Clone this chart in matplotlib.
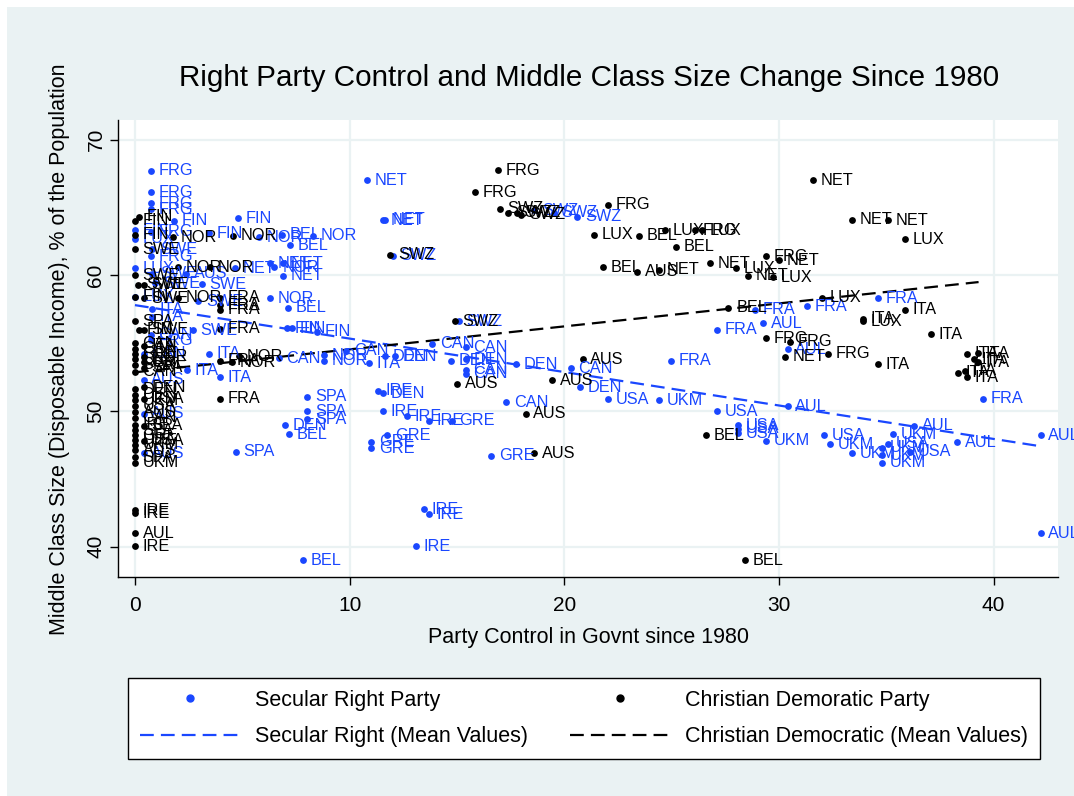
import matplotlib
matplotlib.use("Agg")
import matplotlib.pyplot as plt
from matplotlib.lines import Line2D
from matplotlib.patches import Rectangle

plt.rcParams['font.family'] = ['Liberation Sans', 'DejaVu Sans']

# Secular right party: years in government since 1980, middle class size, country
sec_x = [0.75, 0.75, 0.75, 0.75, 1.8, 4.8, 0.0, 0.75, 0.0, 3.45, 5.8, 6.85, 8.3, 7.2,
         0.8, 0.75, 0.0, 0.8, 2.4, 0.95, 3.1, 4.66, 6.3, 6.9, 6.5, 6.9, 0.0, 6.3, 7.15,
         2.95, 0.78, 0.78, 0.73, 0.73, 0.4, 0.4, 0.4, 0.4, 2.7, 7.07, 7.3, 8.47, 3.45,
         2.44, 3.96, 6.7, 8.8, 8.8, 9.85, 10.9, 11.65, 12.1, 11.55, 11.65, 10.8, 12.0,
         15.1, 18.6, 19.5, 20.6, 13.85, 15.4, 14.7, 15.4, 15.4, 15.4, 17.75, 20.3, 20.75,
         17.3, 11.3, 11.55, 11.55, 12.65, 13.7, 14.75, 11.75, 11.0, 11.0, 16.6, 13.45,
         13.7, 13.1, 7.85, 8.03, 8.03, 8.03, 7.0, 7.18, 4.7, 22.05, 24.4, 27.1, 30.4,
         28.1, 28.1, 28.1, 29.4, 32.1, 32.4, 33.4, 35.3, 36.3, 38.3, 35.1, 34.8, 34.8,
         34.8, 36.1, 42.2, 42.2, 39.5, 34.6, 28.9, 31.3, 27.1, 29.25, 30.4, 24.97]
sec_y = [67.7, 66.1, 65.3, 64.85, 64.0, 64.2, 63.3, 63.2, 62.7, 63.1, 62.8, 63.0, 62.9, 62.2,
         61.9, 61.4, 60.5, 60.1, 60.1, 59.4, 59.35, 60.5, 60.9, 60.9, 60.6, 59.95, 58.4, 58.3, 57.6,
         58.1, 57.5, 56.95, 55.2, 55.6, 54.2, 52.3, 49.8, 46.9, 55.95, 56.1, 56.1, 55.85, 54.2,
         53.0, 52.5, 53.9, 54.1, 53.7, 54.45, 53.5, 54.05, 54.05, 64.05, 64.1, 67.0, 61.45,
         56.6, 64.8, 64.6, 64.3, 54.95, 54.7, 53.7, 53.8, 53.05, 52.75, 53.45, 53.15, 51.75,
         50.65, 51.5, 51.3, 50.0, 49.6, 49.3, 49.3, 48.2, 47.75, 47.25, 46.7, 42.75,
         42.4, 40.05, 39.0, 51.05, 50.0, 49.4, 48.95, 48.3, 47.0, 50.85, 50.8, 50.0, 50.35,
         48.95, 48.7, 48.35, 47.8, 48.2, 47.55, 46.9, 48.3, 48.9, 47.7, 47.6, 47.3, 46.75,
         46.2, 47.0, 48.2, 41.0, 50.9, 58.3, 57.45, 57.7, 56.0, 56.45, 54.55, 53.7]
sec_lab = ['FRG', 'FRG', 'FRG', 'FRG', 'FIN', 'FIN', 'FIN', 'FRG', 'LUX', 'FIN', 'NOR', 'BEL', 'NOR', 'BEL',
           'SWE', 'FRG', 'LUX', 'SWE', 'AUS', 'SWE', 'SWE', 'NET', 'NET', 'NET', 'NOR', 'NET', 'LUX', 'NOR', 'BEL',
           'SWE', 'ITA', 'ITA', 'FRG', 'CAN', 'CAN', 'AUS', 'AUS', 'AUS', 'SWE', 'FIN', 'FIN', 'FIN', 'ITA',
           'ITA', 'ITA', 'CAN', 'NOR', 'NOR', 'CAN', 'ITA', 'DEN', 'DEN', 'NET', 'NET', 'NET', 'SWZ',
           'SWZ', 'SWZ', 'SWZ', 'SWZ', 'CAN', 'CAN', 'DEN', 'DEN', 'CAN', 'CAN', 'DEN', 'CAN', 'DEN',
           'CAN', 'IRE', 'DEN', 'IRE', 'IRE', 'IRE', 'GRE', 'GRE', 'GRE', 'GRE', 'GRE', 'IRE',
           'IRE', 'IRE', 'BEL', 'SPA', 'SPA', 'SPA', 'DEN', 'BEL', 'SPA', 'USA', 'UKM', 'USA', 'AUL',
           'USA', 'USA', 'USA', 'UKM', 'USA', 'UKM', 'UKM', 'UKM', 'AUL', 'AUL', 'USA', 'UKM', 'UKM',
           'UKM', 'USA', 'AUL', 'AUL', 'FRA', 'FRA', 'FRA', 'FRA', 'FRA', 'AUL', 'AUL', 'FRA']

# Christian democratic party
cd_x = [0.2, 0.0, 0.0, 1.75, 4.57, 0.0, 0.0, 2.0, 3.5, 0.15, 0.4, 0.0, 0.4, 2.0, 3.96,
        3.96, 3.96, 0.0, 0.2, 0.4, 3.96, 0.0, 0.0, 0.0, 0.0, 0.0, 0.0, 0.4, 0.4, 0.4, 0.4,
        4.86, 3.96, 4.5, 3.96, 0.0, 0.0, 0.0, 0.0, 0.0, 0.0, 0.0, 0.0, 0.0, 0.0, 0.0, 0.0,
        0.0, 0.0, 0.4, 0.4, 0.4, 0.4, 0.0, 0.0, 0.0, 0.0, 14.9, 11.9, 17.0, 17.4, 17.8, 18.0,
        16.9, 15.84, 22.05, 21.4, 23.5, 24.7, 26.1, 26.4, 25.2, 21.8, 23.4, 24.4, 26.8, 28.0,
        28.55, 29.7, 29.4, 30.0, 31.6, 33.4, 35.1, 35.85, 32.0, 33.9, 33.9, 35.85, 37.1, 34.6,
        38.75, 39.25, 39.1, 39.25, 38.35, 38.67, 38.75, 27.65, 29.4, 30.5, 30.3, 32.3,
        20.85, 15.0, 19.45, 18.2, 18.6, 26.6, 28.4]
cd_y = [64.3, 64.0, 63.0, 62.8, 62.9, 61.9, 60.0, 60.6, 60.6, 59.3, 59.3, 58.4, 58.3, 58.35, 58.35,
        57.8, 57.45, 56.6, 56.0, 56.0, 56.05, 55.0, 54.6, 54.2, 53.8, 53.4, 52.9, 54.8, 54.0, 53.6, 53.2,
        54.05, 53.7, 53.6, 50.9, 51.6, 51.2, 50.8, 50.4, 49.9, 49.5, 49.0, 48.6, 48.2, 47.9, 47.5, 47.1,
        46.6, 46.2, 51.75, 50.9, 48.9, 47.8, 42.7, 42.45, 41.0, 40.05, 56.6, 61.5, 64.9, 64.6, 64.6, 64.45,
        67.75, 66.1, 65.2, 63.0, 62.9, 63.3, 63.3, 63.3, 62.1, 60.6, 60.25, 60.4, 60.9, 60.5,
        59.95, 59.85, 61.4, 61.1, 67.0, 64.1, 64.05, 62.65, 58.35, 56.8, 56.6, 57.45, 55.65, 53.45,
        54.2, 54.25, 53.8, 53.6, 52.8, 52.95, 52.5, 57.6, 55.35, 55.1, 54.0, 54.2,
        53.8, 52.0, 52.25, 49.8, 46.9, 48.2, 39.0]
cd_lab = ['FIN', 'FIN', 'FIN', 'NOR', 'NOR', 'SWE', 'SWE', 'NOR', 'NOR', 'SWE', 'SWE', 'FIN', 'SWE', 'NOR', 'FRA',
          'FRA', 'FRA', 'SPA', 'FIN', 'SWE', 'FRA', 'CAN', 'CAN', 'GRE', 'DEN', 'SPA', 'CAN', 'ITA', 'NOR', 'GRE', 'SPA',
          'NOR', 'FRA', 'NOR', 'FRA', 'DEN', 'DEN', 'UKM', 'USA', 'AUS', 'CAN', 'IRE', 'SPA', 'GRE', 'USA', 'UKM', 'AUS',
          'SPA', 'UKM', 'DEN', 'USA', 'SPA', 'USA', 'IRE', 'IRE', 'AUL', 'IRE', 'SWZ', 'SWZ', 'SWZ', 'SWZ', 'SWZ', 'SWZ',
          'FRG', 'FRG', 'FRG', 'LUX', 'BEL', 'LUX', 'FRG', 'LUX', 'BEL', 'BEL', 'AUS', 'NET', 'NET', 'LUX',
          'NET', 'LUX', 'FRG', 'NET', 'NET', 'NET', 'NET', 'LUX', 'LUX', 'ITA', 'LUX', 'ITA', 'ITA', 'ITA',
          'ITA', 'ITA', 'ITA', 'ITA', 'ITA', 'ITA', 'ITA', 'BEL', 'FRG', 'FRG', 'NET', 'FRG',
          'AUS', 'AUS', 'AUS', 'AUS', 'AUS', 'BEL', 'BEL']

# mean-value lines (end points)
sec_fit_x = [0, 42.2]
sec_fit_y = [57.8, 47.4]
cd_fit_x = [0, 39.3]
cd_fit_y = [52.85, 59.5]

blue = '#1a47ff'
dash = (6.2, 3.2)

fig = plt.figure(figsize=(10.74, 7.96), dpi=100, facecolor='white')
fig.patches.append(Rectangle((7 / 1074, 0), 1, 1 - 7 / 796, transform=fig.transFigure,
                             facecolor='#eaf2f3', edgecolor='none', zorder=-10))
ax = fig.add_axes([118 / 1074, 1 - 577 / 796, 940 / 1074, 457 / 796])

ax.scatter(sec_x, sec_y, s=24, color=blue, linewidths=0, zorder=3)
ax.scatter(cd_x, cd_y, s=24, color='black', linewidths=0, zorder=3)
for x, y, l in zip(sec_x, sec_y, sec_lab):
    ax.annotate(l, (x, y), xytext=(5.5, 0), textcoords='offset points',
                va='center', ha='left', fontsize=11.7, color=blue, zorder=4)
for x, y, l in zip(cd_x, cd_y, cd_lab):
    ax.annotate(l, (x, y), xytext=(5.5, 0), textcoords='offset points',
                va='center', ha='left', fontsize=11.7, color='black', zorder=4)

ax.plot(sec_fit_x, sec_fit_y, color=blue, lw=1.6, dashes=dash, zorder=2)
ax.plot(cd_fit_x, cd_fit_y, color='black', lw=1.6, dashes=dash, zorder=2)

ax.set_xlim(-0.79, 43.0)
ax.set_ylim(37.77, 71.44)
ax.set_xticks([0, 10, 20, 30, 40])
ax.set_yticks([40, 50, 60, 70])
ax.tick_params(axis='both', length=6, width=1, labelsize=15, direction='out')
ax.tick_params(axis='x', pad=8)
ax.tick_params(axis='y', pad=3)
for t in ax.get_yticklabels():
    t.set_rotation(90)
    t.set_va('center')
ax.grid(color='#eaf2f3', lw=1.6)
ax.set_axisbelow(True)
for s in ['top', 'right']:
    ax.spines[s].set_visible(False)
for s in ['left', 'bottom']:
    ax.spines[s].set_linewidth(1)

fig.text(589 / 1074, 1 - 78 / 796, 'Right Party Control and Middle Class Size Change Since 1980',
         ha='center', va='center', fontsize=21.3)
fig.text(589 / 1074, 1 - 637 / 796, 'Party Control in Govnt since 1980',
         ha='center', va='center', fontsize=15.5)
fig.text(60 / 1074, 1 - 349 / 796, 'Middle Class Size (Disposable Income), % of the Population',
         ha='center', va='center', rotation=90, fontsize=15.5)

handles = [Line2D([], [], ls='none', marker='o', ms=5, color=blue),
           Line2D([], [], color=blue, lw=1.6, dashes=dash),
           Line2D([], [], ls='none', marker='o', ms=5, color='black'),
           Line2D([], [], color='black', lw=1.6, dashes=dash)]
labels = ['Secular Right Party', 'Secular Right (Mean Values)',
          'Christian Demoratic Party', 'Christian Democratic (Mean Values)']
leg = fig.legend(handles, labels, ncol=2, loc='center',
                 bbox_to_anchor=(128 / 1074, 1 - 760 / 796, 912 / 1074, 83 / 796),
                 bbox_transform=fig.transFigure, mode='expand', fontsize=15.5,
                 handlelength=4.65, handletextpad=0.7, labelspacing=0.7, borderpad=0.55,
                 borderaxespad=0, fancybox=False, edgecolor='black', framealpha=1)
leg.get_frame().set_linewidth(1.0)

fig.savefig('out.png', dpi=100, facecolor=fig.get_facecolor())
